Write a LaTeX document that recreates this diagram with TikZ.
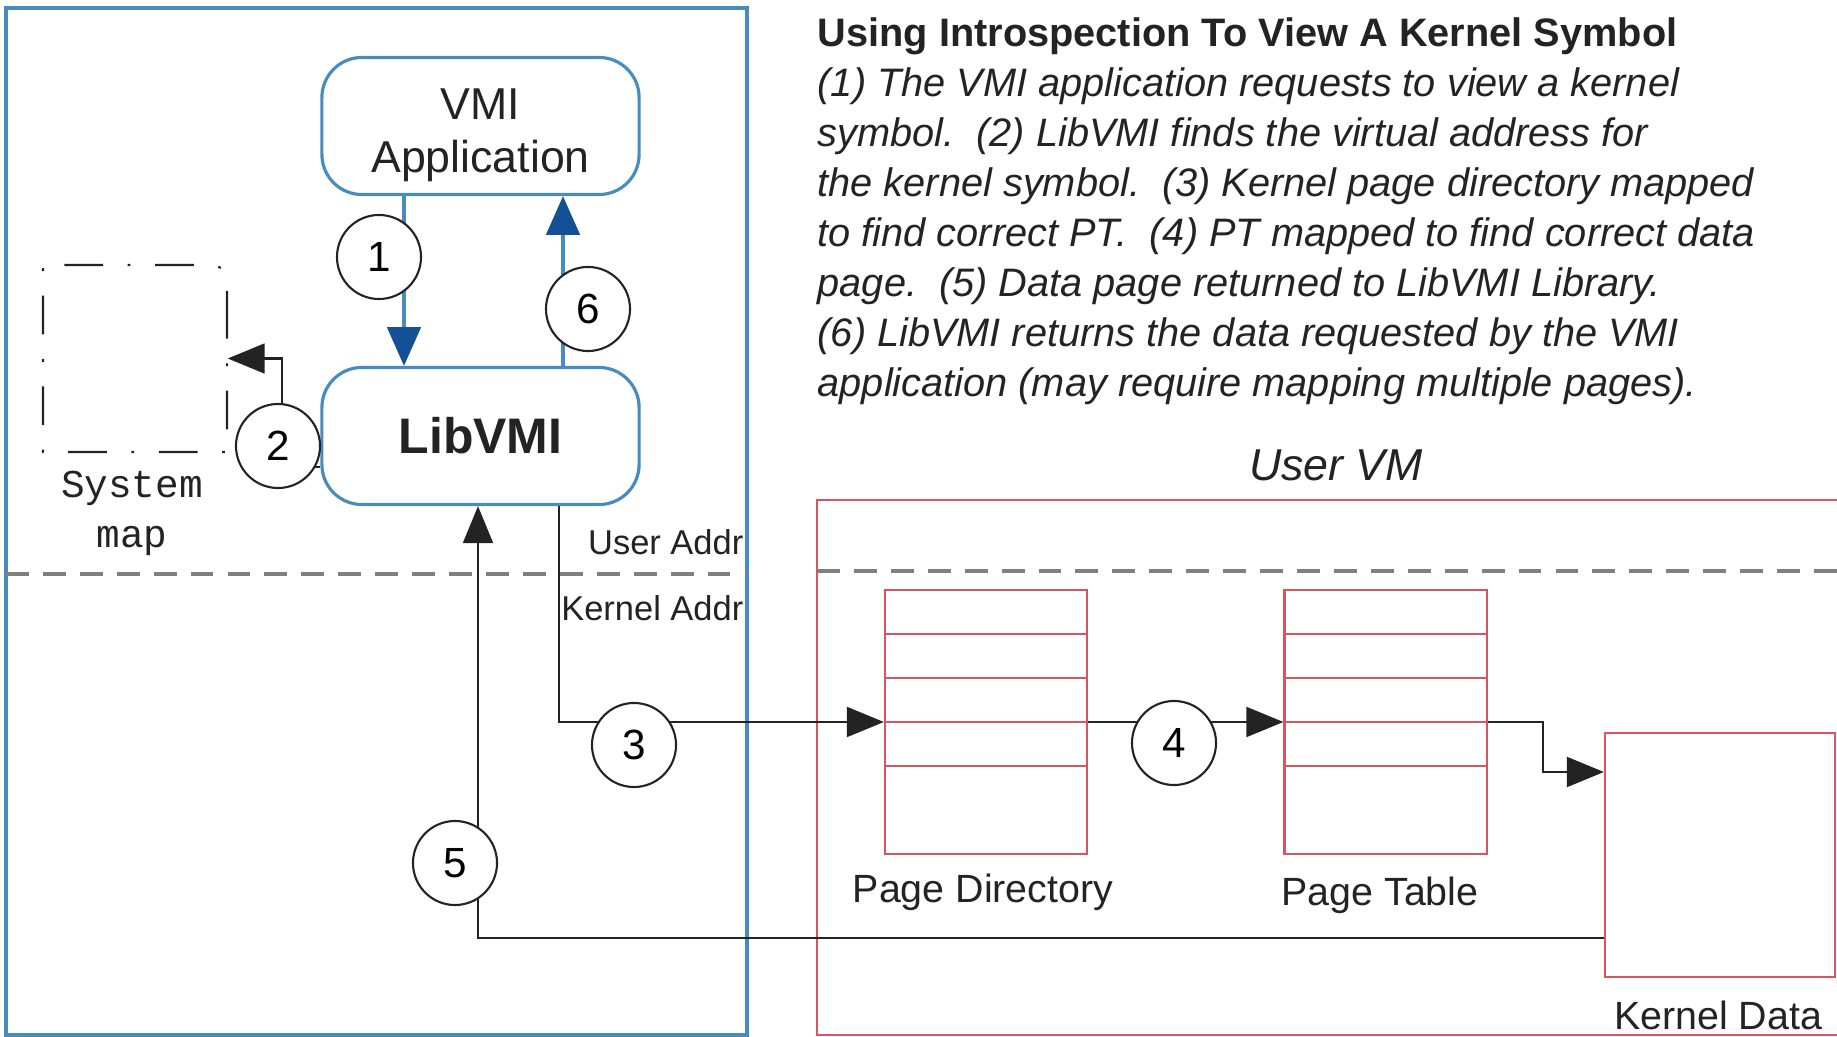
\documentclass[tikz,border=0pt]{standalone}
\usepackage{fontspec}
\setmainfont{Liberation Sans}
\setmonofont{Liberation Mono}
\usetikzlibrary{arrows.meta}
\definecolor{frameblue}{RGB}{70,140,190}
\definecolor{tipblue}{RGB}{20,80,150}
\definecolor{vmred}{RGB}{215,85,95}
\definecolor{inkgray}{RGB}{35,35,35}

\begin{document}
\begin{tikzpicture}[x=0.01cm,y=-0.01cm,
        ink/.style={line width=0.6pt,draw=inkgray},
        arr/.style={ink,-{Triangle[length=10.5pt,width=8.5pt]}},
        bluearr/.style={line width=0.9pt,draw=frameblue,-{Triangle[length=11pt,width=9.5pt,color=tipblue]}},
        numc/.style={circle,ink,fill=white,minimum size=0.84cm,inner sep=0pt,font=\fontsize{12}{14}\selectfont},
        vmibox/.style={rectangle,rounded corners=0.4cm,draw=frameblue,line width=0.9pt,minimum width=3.17cm,minimum height=1.37cm,align=center,text=inkgray},
        pagetab/.style={rectangle,draw=vmred,line width=0.6pt,minimum width=2.02cm,minimum height=2.64cm},
        lbl/.style={font=\fontsize{11.2}{13}\selectfont,text=inkgray},
        desc/.style={anchor=base west,inner sep=0pt,text=inkgray,font=\itshape\fontsize{11.3}{14}\selectfont},
        dashline/.style={draw=gray,line width=1pt,dash pattern=on 6.5pt off 4pt}]
        \useasboundingbox (0,0) rectangle (1837,1037);
        \draw[frameblue,line width=0.9pt] (6,8) rectangle (747,1035);
        \draw[vmred,line width=0.6pt] (817,500) rectangle (1900,1035);
        \draw[dashline] (6,574) -- (747,574);
        \draw[dashline] (817,571) -- (1837,571);

        \node[vmibox,inner ysep=0pt,font=\fontsize{12.7}{15.3}\selectfont] (app) at (480.5,126) {\rule{0pt}{14pt}VMI\\Application};
        \node[vmibox,font=\bfseries\fontsize{14.2}{17}\selectfont] (lib) at (480.5,436) {LibVMI};

        \draw[ink,dash pattern=on 11pt off 7pt on 0.8pt off 7pt] (227,300) -- (227,452) -- (43,452) -- (43,265) -- (192,265) .. controls (227,265) .. (227,300);
        \node[minimum width=1.84cm,minimum height=1.87cm,inner sep=0pt] (sysmap) at (135,358.5) {};
        \node[font=\ttfamily\fontsize{11.2}{14.2}\selectfont,align=center,text=inkgray] (smlabel) at (132,513) {System\\map};

        \node[desc,font=\bfseries\fontsize{11.3}{14}\selectfont] (title) at (817,47) {Using Introspection To View A Kernel Symbol};
        \foreach \txt [count=\i] in {{(1) The VMI application requests to view a kernel},
                {symbol.\ \ (2) LibVMI finds the virtual address for},
                {the kernel symbol.\ \ (3) Kernel page directory mapped},
                {to find correct PT.\ \ (4) PT mapped to find correct data},
                {page.\ \ (5) Data page returned to LibVMI Library.},
                {(6) LibVMI returns the data requested by the VMI},
                {application (may require mapping multiple pages).}}
                \node[desc] (line\i) at (817,47+50*\i) {\txt};

        \node[lbl,font=\itshape\fontsize{12.7}{15}\selectfont] (vmtitle) at (1336,465) {User VM};
        \node[lbl,font=\fontsize{9.8}{12}\selectfont,anchor=east,inner sep=0pt] (useraddr) at (744,542) {User Addr};
        \node[lbl,font=\fontsize{9.8}{12}\selectfont,anchor=east,inner sep=0pt] (kerneladdr) at (744,608) {Kernel Addr};

        \node[pagetab] (pd) at (986,722) {};
        \node[pagetab] (pt) at (1385.5,722) {};
        \foreach \t in {pd,pt}
                \foreach \y in {634,678,722,766}
                        \draw[vmred,line width=0.6pt] (\t.west |- 0,\y) -- (\t.east |- 0,\y);
        \node[rectangle,draw=vmred,line width=0.6pt,minimum width=2.3cm,minimum height=2.44cm] (kd) at (1720,855) {};
        \node[lbl] (pdlabel) at (983,892) {Page Directory};
        \node[lbl] (ptlabel) at (1380,895) {Page Table};
        \node[lbl] (kdlabel) at (1718,1015) {Kernel Data};

        \draw[bluearr] (404,0 |- app.south) -- (404,0 |- lib.north);
        \draw[bluearr] (563,0 |- lib.north) -- (563,0 |- app.south);
        \draw[arr] (lib.west |- 0,467) -| (282,0 |- sysmap.east) -- (sysmap.east);
        \draw[arr] (559,0 |- lib.south) |- (pd.west);
        \draw[arr] (pd.east) -- (pt.west);
        \draw[arr] (pt.east) -- (1543,0 |- pt.east) |- (kd.west |- 0,772);
        \draw[arr] (kd.west |- 0,938) -| (lib.south -| 478,0);

        \node[numc] (c1) at (379,257) {1};
        \node[numc] (c6) at (588,309) {6};
        \node[numc] (c2) at (278,446) {2};
        \node[numc] (c3) at (634,745) {3};
        \node[numc] (c4) at (1174,743) {4};
        \node[numc] (c5) at (455,863) {5};
\end{tikzpicture}
\end{document}
